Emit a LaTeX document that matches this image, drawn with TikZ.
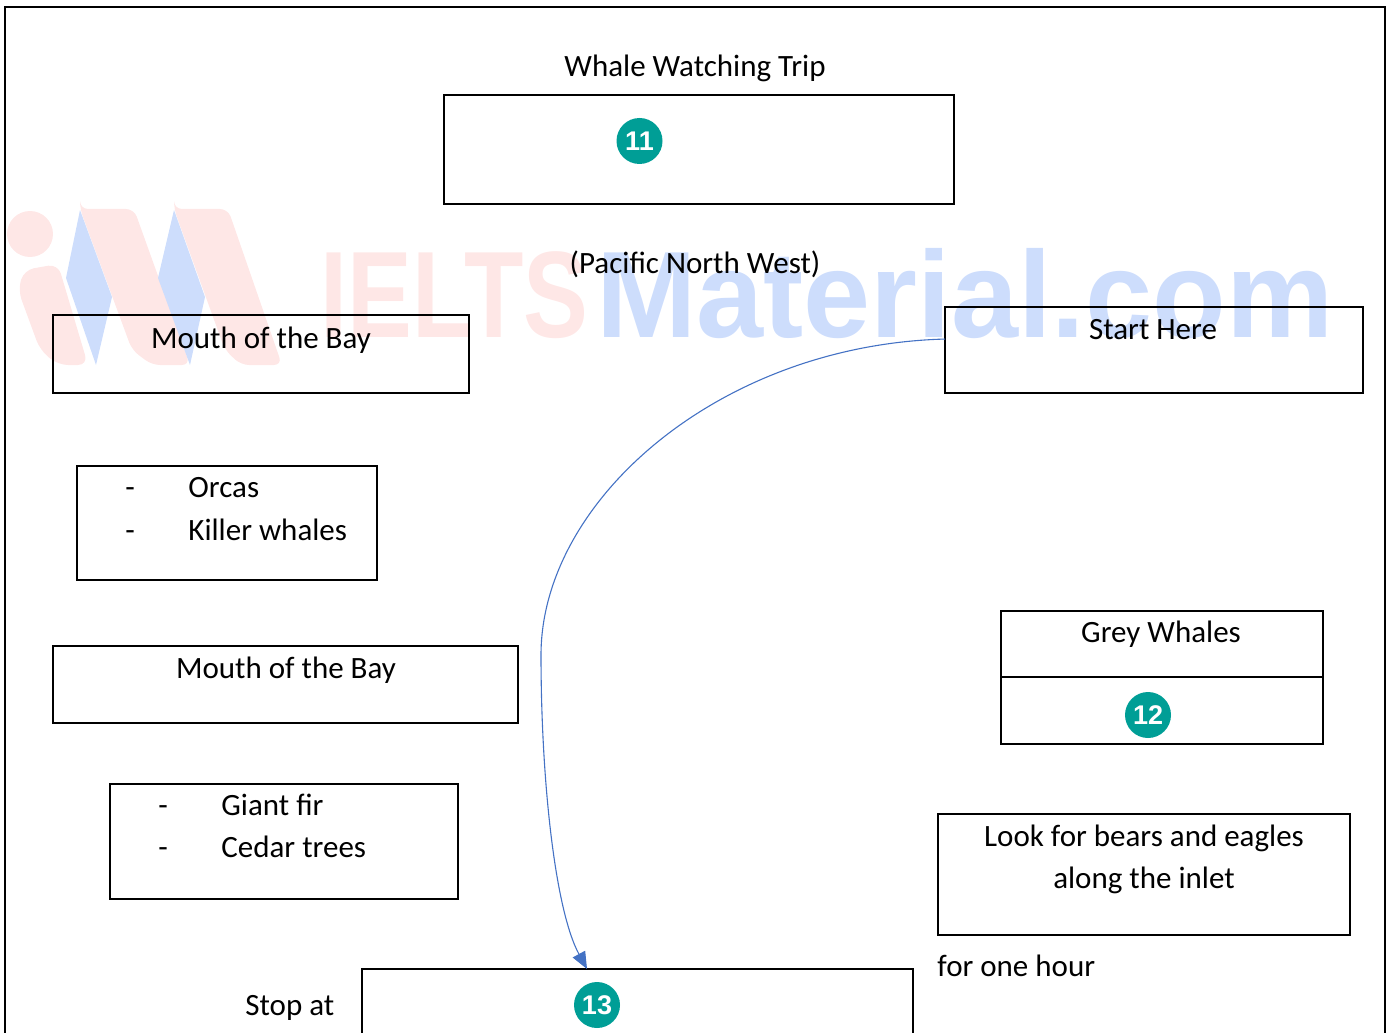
\documentclass[tikz,border=0pt]{standalone}
\usepackage{fontspec}
\setmainfont{Carlito}
\newfontfamily\badgefont{Liberation Sans}
\newfontfamily\markfont{Liberation Sans}
\usetikzlibrary{arrows.meta}
\definecolor{markred}{HTML}{FEE7E6}
\definecolor{markblue}{HTML}{CDDDFC}
\definecolor{badgeteal}{HTML}{009E96}
\definecolor{curveblue}{HTML}{4472C4}
\tikzset{
    tbox/.style 2 args={draw, line width=1pt, outer sep=0pt, inner sep=0pt, anchor=north west, minimum width=#1*0.5pt, minimum height=#2*0.5pt},
    txt/.style={inner sep=0pt, anchor=base, font=\fontsize{15.5}{18}\selectfont},
    ltxt/.style={txt, anchor=base west},
    badge/.style={circle, fill=badgeteal, text=white, minimum size=23pt, inner sep=0pt, font=\badgefont\bfseries\fontsize{13.5}{15}\selectfont},
}
\begin{document}
\begin{tikzpicture}[x=0.5pt, y=-0.5pt]
        \useasboundingbox (0,0) rectangle (1390,1032);
        \clip (0,0) rectangle (1390,1032);

        \fill[markred] (30,234) circle (23);
        \fill[markred, rounded corners=5pt] (18,290) -- (24,270) -- (58,264) -- (88,365) -- (58,365) -- (40,350) -- cycle;
        \fill[markred, rounded corners=4pt] (80,209) -- (134,209) -- (190,365) -- (152,365) -- (132,350) -- (80,209) -- cycle;
        \fill[markred, rounded corners=4pt] (174,209) -- (228,209) -- (282,365) -- (241,365) -- (225,350) -- (174,209) -- cycle;
        \fill[markblue] (80,210) -- (112,297) -- (96,365) -- (66,278) -- cycle;
        \fill[markblue] (174,210) -- (205,297) -- (190,365) -- (158,278) -- cycle;
        \node[inner sep=0pt, anchor=base west, text=markred, xscale=0.79, transform shape, font=\markfont\bfseries\fontsize{61.5}{62}\selectfont] (markone) at (320,337) {IELTS};
        \node[inner sep=0pt, anchor=base west, text=markblue, xscale=0.98, transform shape, font=\markfont\bfseries\fontsize{61.5}{62}\selectfont] (marktwo) at (596,337) {Material.com};

        \node[tbox={1380}{1100}] (frame) at (5,7) {};
        \node[tbox={510}{109}] (titlebox) at (444,95) {};
        \node[tbox={416}{78}] (mouthone) at (53,315) {};
        \node[tbox={418}{86}] (starthere) at (945,307) {};
        \node[tbox={300}{114}] (orcasbox) at (77,466) {};
        \node[tbox={465}{77}] (mouthtwo) at (53,646) {};
        \node[tbox={322}{66}] (greytop) at (1001,611) {};
        \node[tbox={322}{67}] (greybottom) at (1001,677) {};
        \node[tbox={348}{115}] (treesbox) at (110,784) {};
        \node[tbox={412}{121}] (lookbox) at (938,814) {};
        \node[tbox={551}{131}] (stopbox) at (362,969) {};

        \node[txt] (title) at (695,77) {Whale Watching Trip};
        \node[txt] (region) at (695,273) {(Pacific North West)};
        \node[txt] (mouthonetxt) at (261,348) {Mouth of the Bay};
        \node[txt] (starttxt) at (1153,339) {Start Here};
        \node[ltxt] (dashone) at (125,497) {-};
        \node[ltxt] (orcas) at (188,497) {Orcas};
        \node[ltxt] (dashtwo) at (125,540) {-};
        \node[ltxt] (killer) at (188,540) {Killer whales};
        \node[txt] (mouthtwotxt) at (286,678) {Mouth of the Bay};
        \node[txt] (grey) at (1161,642) {Grey Whales};
        \node[ltxt] (dashthree) at (158,815) {-};
        \node[ltxt] (fir) at (221,815) {Giant fir};
        \node[ltxt] (dashfour) at (158,857) {-};
        \node[ltxt] (cedar) at (221,857) {Cedar trees};
        \node[txt] (lookone) at (1144,846) {Look for bears and eagles};
        \node[txt] (looktwo) at (1144,888) {along the inlet};
        \node[ltxt] (hour) at (937,976) {for one hour};
        \node[ltxt] (stopat) at (245,1015) {Stop at};

        \node[badge] (eleven) at (639.5,141) {11};
        \node[badge] (twelve) at (1148,715) {12};
        \node[badge] (thirteen) at (597,1005) {13};

        \coordinate (curvemid) at (541,655);
        \coordinate (curvetip) at (587,969);
        \draw[curveblue, line width=0.55pt, -{Triangle[length=8.5pt, width=7pt]}] (starthere.177.5)
            .. controls (720,345) and (541,500) .. (curvemid)
            .. controls (541,780) and (555,910) .. (curvetip);
\end{tikzpicture}
\end{document}
